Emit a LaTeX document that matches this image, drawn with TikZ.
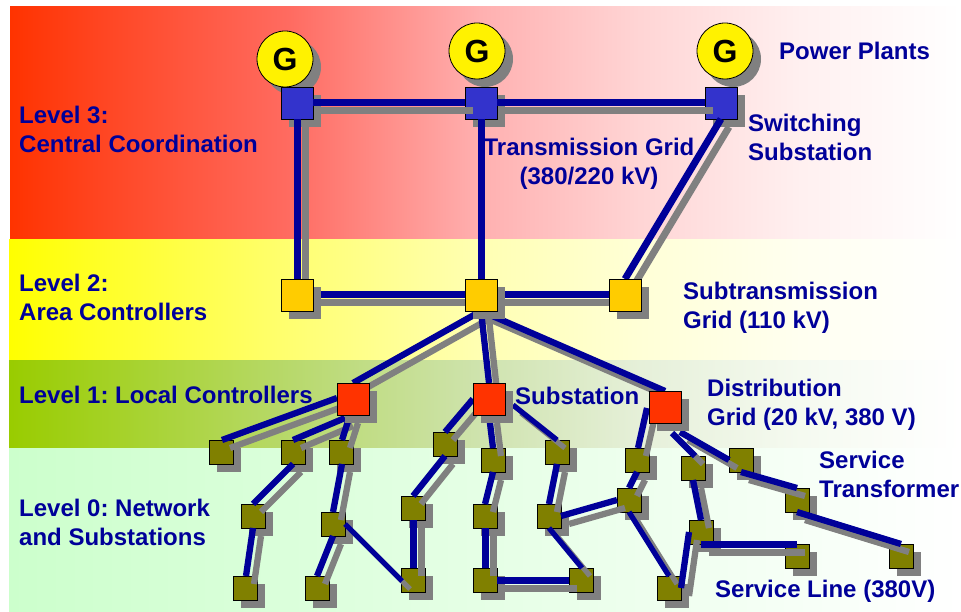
\documentclass[tikz,border=0pt]{standalone}
\usepackage{fontspec}
\setmainfont{Liberation Sans}
\usetikzlibrary{calc}
\definecolor{navy}{HTML}{000099}
\definecolor{shadowgray}{HTML}{808080}
\definecolor{blueb}{HTML}{3333CC}
\definecolor{yellowb}{HTML}{FFCC00}
\definecolor{redb}{HTML}{FF3300}
\definecolor{oliveb}{HTML}{808000}
\definecolor{bandmint}{HTML}{CCFFCC}
\pgfdeclarehorizontalshading{redband}{100bp}{rgb(0bp)=(1,.2,0); rgb(25bp)=(1,.2,0); rgb(29.7bp)=(1,.27,.13); rgb(39.7bp)=(1,.42,.38); rgb(49.7bp)=(1,.69,.69); rgb(58.1bp)=(1,.835,.835); rgb(66.5bp)=(1,.94,.94); rgb(75bp)=(1,1,1); rgb(100bp)=(1,1,1)}
\pgfdeclarehorizontalshading{yellowband}{100bp}{rgb(0bp)=(1,1,0); rgb(25bp)=(1,1,0); rgb(29.7bp)=(1,1,.15); rgb(39.7bp)=(1,1,.44); rgb(49.7bp)=(1,1,.70); rgb(58.1bp)=(1,1,.84); rgb(66.5bp)=(1,1,.94); rgb(75bp)=(1,1,1); rgb(100bp)=(1,1,1)}
\pgfdeclarehorizontalshading{greenband}{100bp}{rgb(0bp)=(.6,.8,0); rgb(25bp)=(.6,.8,0); rgb(29.7bp)=(.64,.82,.13); rgb(39.7bp)=(.72,.85,.42); rgb(49.7bp)=(.81,.89,.68); rgb(58.1bp)=(.90,.94,.85); rgb(66.5bp)=(.96,.98,.94); rgb(75bp)=(1,1,1); rgb(100bp)=(1,1,1)}
\tikzset{
  boxbase/.style={draw=black,line width=0.8pt,rectangle,inner sep=0pt,outer sep=0pt},
  bigbox/.style={boxbase,minimum size=32pt},
  ghostbox/.style={rectangle,inner sep=0pt,outer sep=0pt,minimum size=32pt},
  smallbox/.style={boxbase,minimum size=24pt,fill=oliveb},
  gen/.style={circle,draw=black,line width=0.8pt,fill=yellow,minimum size=56pt,inner sep=0pt,outer sep=0pt,font=\fontsize{32}{32}\selectfont\bfseries},
  lab/.style={text=navy,font=\fontsize{24}{29}\selectfont\bfseries,align=left,inner sep=0pt,anchor=west},
  wirethick/.style={line width=7pt},
  wiremid/.style={line width=6.3pt},
  wirethin/.style={line width=5.3pt},
}
\newcommand{\wire}[3][wiremid]{%
  \draw[#1,shadowgray,transform canvas={shift={(8pt,-8pt)}}] #2 -- #3;
  \draw[#1,navy] #2 -- #3;}
\newcommand{\olivebox}[3]{\fill[shadowgray] (#2-4,#3-4) rectangle (#2+20,#3+20);
  \node[smallbox] (#1) at (#2,#3) {};}
\newcommand{\genunit}[3]{\fill[shadowgray] (#2+8,#3+8) circle (28);
  \node[gen] (#1) at (#2,#3) {G};}
\newcommand{\bigunit}[4]{\fill[shadowgray] (#2-8,#3-8) rectangle (#2+24,#3+24);
  \node[bigbox,fill=#4] (#1) at (#2,#3) {};}
\frenchspacing
\begin{document}
\begin{tikzpicture}[x=1pt,y=-1pt]
\useasboundingbox (0,0) rectangle (961,612);
\fill[white] (0,0) rectangle (961,612);
\shade[shading=redband] (10,7) rectangle (961,240);
\shade[shading=yellowband] (9,240) rectangle (961,360);
\shade[shading=greenband] (9,360) rectangle (961,448);
\shade[left color=bandmint,right color=white] (9,448) rectangle (961,612);
% generators
\genunit{g1}{285}{59}\genunit{g2}{477}{51}\genunit{g3}{725}{51}
% blue boxes
\bigunit{b1}{297}{103}{blueb}\bigunit{b2}{481}{103}{blueb}\bigunit{b3}{721}{103}{blueb}
% places of the yellow and red boxes, which are painted over their wires
\node[ghostbox] (y1) at (297,295) {};
\node[ghostbox] (y2) at (481,295) {};
\node[ghostbox] (y3) at (625,295) {};
\node[ghostbox] (r1) at (353,399) {};
\node[ghostbox] (r2) at (489,399) {};
\node[ghostbox] (r3) at (665,407) {};
% olive boxes
\olivebox{a1}{221}{452}\olivebox{a2}{293}{452}\olivebox{a3}{341}{452}
\olivebox{a4}{253}{516}\olivebox{a5}{333}{524}\olivebox{a6}{245}{588}
\olivebox{a7}{317}{588}\olivebox{a8}{413}{580}\olivebox{a9}{413}{508}
\olivebox{c1}{445}{444}\olivebox{c2}{493}{460}\olivebox{c3}{557}{452}
\olivebox{c4}{485}{516}\olivebox{c5}{549}{516}\olivebox{c6}{629}{500}
\olivebox{c7}{485}{580}\olivebox{c8}{581}{580}
\olivebox{d1}{637}{460}\olivebox{d2}{693}{468}\olivebox{d3}{741}{460}
\olivebox{d4}{797}{500}\olivebox{d5}{701}{532}\olivebox{d6}{797}{556}
\olivebox{d7}{901}{556}\olivebox{d8}{669}{588}
% top wires
\wire[wirethick]{(b1.east)}{(b2.west)}
\wire[wirethick]{(b2.east)}{(b3.west)}
\wire[wirethick]{(b1.south)}{(y1.north)}
\draw[wirethick,navy] (b2.south) -- (y2.north);
\wire[wirethick]{(b3.south)}{(y3.north)}
\wire[wirethick]{(y1.east)}{(y2.west)}
\wire[wirethick]{(y2.east)}{(y3.west)}
\wire{(y2.south)}{(r1.north)}
\wire{(y2.south)}{(r2.north)}
\wire{(y2.south)}{(r3.north)}
% red box wires
\wire{($(r1.west)+(0,-1)$)}{($(a1.north)+(1,0)$)}
\wire{($(r1.south)+(-8,3)$)}{(a2.north)}
\wire{($(r1.south)+(-3,0)$)}{($(a3.north)+(1,0)$)}
\wire{(r2.west)}{(c1.north)}
\wire{(r2.south)}{(c2.north)}
\wire[wirethin]{($(r2.east)+(8,6)$)}{(c3.north)}
\wire{($(r3.west)+(-2,1)$)}{($(d1.north)+(1,0)$)}
\wire{($(r3.south)+(7,10)$)}{($(d2.north)+(2,0)$)}
\wire{($(r3.south)+(15,9)$)}{(d3.west)}
% yellow and red boxes with their shadows
\bigunit{y1box}{297}{295}{yellowb}\bigunit{y2box}{481}{295}{yellowb}\bigunit{y3box}{625}{295}{yellowb}
\bigunit{r1box}{353}{399}{redb}\bigunit{r2box}{489}{399}{redb}\bigunit{r3box}{665}{407}{redb}
% level 0 wires
\wire{(a2.south)}{(a4.north)}
\wire{($(a3.south)+(1,0)$)}{(a5.north)}
\wire{(a4.south)}{($(a6.north)+(1,0)$)}
\wire{(a5.south)}{(a7.north)}
\wire[wirethin]{(a5.east)}{($(a8.west)+(1,1)$)}
\wire[wirethick]{(a9.south)}{(a8.north)}
\wire{(c1.south)}{(a9.north)}
\wire{(c2.south)}{(c4.north)}
\wire{(c3.south)}{(c5.north)}
\wire[wirethick]{(c4.south)}{(c7.north)}
\wire{(c5.east)}{(c6.west)}
\wire[wirethin]{(c5.south)}{($(c8.north)+(1,0)$)}
\wire[wirethick]{(c7.east)}{(c8.west)}
\wire{(d1.south)}{(c6.north)}
\wire[wirethin]{(c6.south)}{(d8.north)}
\wire{(d2.south)}{(d5.north)}
\wire{(d5.west)}{(d8.east)}
\wire[wirethick]{(d5.south)}{(d6.north)}
\wire{(d3.south)}{(d4.north)}
\wire{(d4.south)}{(d7.north)}
% labels
\node[lab] (t1) at (19,129) {Level 3:\\Central Coordination};
\node[lab] (t2) at (19,297) {Level 2:\\Area Controllers};
\node[lab] (t3) at (19,395) {Level 1: Local Controllers};
\node[lab] (t4) at (19,522) {Level 0: Network\\and Substations};
\node[lab] (t5) at (779,51) {Power Plants};
\node[lab] (t6) at (748,137) {Switching\\Substation};
\node[lab,align=center,anchor=center] (t7) at (589,164) {Transmission Grid\\(380/220 kV)};
\node[lab] (t8) at (683,308) {Subtransmission\\Grid (110 kV)};
\node[lab] (t9) at (515,396) {Substation};
\node[lab] (t10) at (707,405) {Distribution\\Grid (20 kV, 380 V)};
\node[lab] (t11) at (819,474) {Service\\Transformer};
\node[lab] (t12) at (715,591) {Service Line (380V)};
\end{tikzpicture}
\end{document}
